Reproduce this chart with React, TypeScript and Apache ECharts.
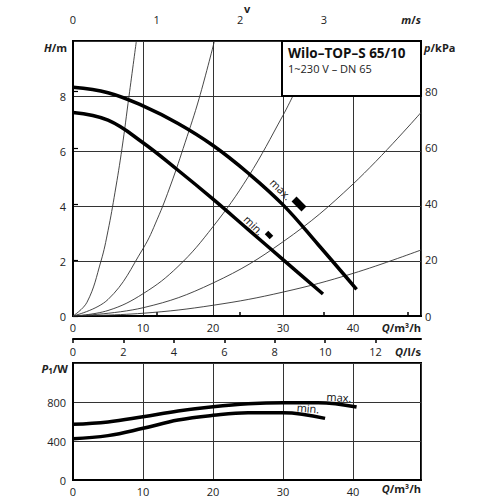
import React, { useEffect, useRef } from 'react';
import * as echarts from 'echarts';

const FONT = '"Open Sans", "DejaVu Sans", sans-serif';

// Axis extents
const Q_MAX = 49.7; // m³/h
const H_MAX = 10; // m
const KPA_MAX = 98.1; // kPa
const V_MAX = 4.162; // m/s
const LS_MAX = 13.8; // l/s
const P_MAX = 1200; // W

// Pump curves H(Q)
const qMaxH = [0, 5, 10, 15, 20, 25, 30, 35, 40.5];
const hMax = [8.32, 8.12, 7.64, 7.0, 6.2, 5.2, 4.04, 2.6, 0.97];
const qMinH = [0, 5, 10, 15, 20, 25, 30, 35.7];
const hMin = [7.4, 7.12, 6.3, 5.3, 4.25, 3.15, 2.05, 0.8];

// System curves
const sysQ1 = [0, 2, 4, 5, 6, 7, 8, 9.05];
const sysH1 = [0, 0.5, 2.0, 3.1, 4.5, 6.1, 8.0, 10];
const sysQ2 = [0, 5, 10, 12, 14, 16, 18, 20.2];
const sysH2 = [0, 0.6, 2.45, 3.5, 4.8, 6.3, 7.9, 10];
const sysQ3 = [0, 5, 10, 15, 20, 25, 30, 31.4];
const sysH3 = [0, 0.2, 0.81, 1.8, 3.25, 5.05, 7.3, 8.0];
const sysQ4 = [0, 10, 20, 30, 40, 49.7];
const sysH4 = [0, 0.3, 1.2, 2.7, 4.8, 7.4];
const sysQ5 = [0, 10, 20, 30, 40, 49.7];
const sysH5 = [0, 0.1, 0.39, 0.87, 1.55, 2.4];

// Power curves P1(Q)
const qMaxP = [0, 5, 10, 15, 20, 25, 30, 35, 40.5];
const pMax = [571, 595, 649, 708, 752, 782, 793, 793, 749];
const qMinP = [0, 5, 10, 15, 20, 25, 30, 36];
const pMin = [424, 455, 530, 615, 663, 690, 690, 632];

const pairs = (xs: number[], ys: number[]) => xs.map((x, i) => [x, ys[i]]);

const labelStyle = { fontSize: 11, color: '#222', fontFamily: FONT };

function App() {
  const ref = useRef<HTMLDivElement>(null);
  useEffect(() => {
    if (!ref.current) return;
    const chart = echarts.init(ref.current, null, { renderer: 'svg' });

    const thin = (xs: number[], ys: number[]) => ({
      type: 'line',
      xAxisIndex: 0,
      yAxisIndex: 0,
      data: pairs(xs, ys),
      smooth: 0.4,
      symbol: 'none',
      lineStyle: { color: '#333', width: 0.9 },
      z: 3,
    });
    const thick = (xs: number[], ys: number[], xi: number, yi: number) => ({
      type: 'line',
      xAxisIndex: xi,
      yAxisIndex: yi,
      data: pairs(xs, ys),
      smooth: 0.4,
      symbol: 'none',
      lineStyle: { color: '#000', width: 3.5, cap: 'butt' },
      z: 5,
    });

    const axisLine = (w: number) => ({ show: true, lineStyle: { color: '#000', width: w } });
    const grid = { show: true, borderColor: '#000', borderWidth: 2, backgroundColor: 'transparent' };
    const split = { show: true, lineStyle: { color: '#333', width: 1 } };

    const txt = (x: number, y: number, text: string, align: string, rich: any, extra: any = {}) => ({
      type: 'text',
      x,
      y,
      z: 120,
      style: {
        text,
        textAlign: align,
        textVerticalAlign: 'middle',
        fill: '#222',
        rich,
        font: `11px ${FONT}`,
      },
      ...extra,
    });
    const richAxis = {
      i: { fontStyle: 'italic', fontWeight: 'bold', fontSize: 11, fontFamily: FONT, color: '#222' },
      n: { fontWeight: 'bold', fontSize: 11, fontFamily: FONT, color: '#222' },
      s: { fontWeight: 'bold', fontSize: 8, fontFamily: FONT, color: '#222', padding: [5, 0, 0, 0] },
    };

    chart.setOption({
      animation: false,
      backgroundColor: '#fff',
      grid: [
        { ...grid, left: 73, top: 41, width: 348, height: 275, outerBoundsMode: 'none' },
        { ...grid, left: 73, top: 363, width: 348, height: 117, outerBoundsMode: 'none' },
      ],
      xAxis: [
        {
          type: 'value', gridIndex: 0, min: 0, max: Q_MAX, interval: 10, position: 'bottom',
          axisLine: axisLine(2), axisTick: { show: false },
          axisLabel: { ...labelStyle, margin: 6, showMaxLabel: false },
          splitLine: split,
        },
        {
          type: 'value', gridIndex: 0, min: 0, max: V_MAX, interval: 1, position: 'top', offset: 9,
          axisLine: axisLine(2), axisTick: { show: true, length: 4, lineStyle: { color: '#000', width: 1.5 } },
          axisLabel: { ...labelStyle, margin: 7, showMaxLabel: false, formatter: (v: number) => (v === 4 ? '' : String(v)) },
          splitLine: { show: false },
        },
        {
          type: 'value', gridIndex: 0, min: 0, max: LS_MAX, interval: 2, position: 'bottom', offset: 23,
          axisLine: axisLine(2), axisTick: { show: true, length: 4, lineStyle: { color: '#000', width: 1.5 } },
          axisLabel: { ...labelStyle, margin: 7, showMaxLabel: false },
          splitLine: { show: false },
        },
        {
          type: 'value', gridIndex: 1, min: 0, max: Q_MAX, interval: 10, position: 'bottom',
          axisLine: axisLine(2), axisTick: { show: false },
          axisLabel: { ...labelStyle, margin: 6, showMaxLabel: false },
          splitLine: split,
        },
      ],
      yAxis: [
        {
          type: 'value', gridIndex: 0, min: 0, max: H_MAX, interval: 2, position: 'left',
          axisLine: axisLine(2), axisTick: { show: false },
          axisLabel: { ...labelStyle, margin: 7, showMaxLabel: false },
          splitLine: split,
        },
        {
          type: 'value', gridIndex: 0, min: 0, max: KPA_MAX, interval: 20, position: 'right',
          axisLine: axisLine(2), axisTick: { show: true, length: 5, lineStyle: { color: '#000', width: 1.2 } },
          axisLabel: { ...labelStyle, margin: 4, showMaxLabel: false },
          splitLine: { show: false },
        },
        {
          type: 'value', gridIndex: 1, min: 0, max: P_MAX, interval: 400, position: 'left',
          axisLine: axisLine(2), axisTick: { show: false },
          axisLabel: { ...labelStyle, margin: 7, showMaxLabel: false },
          splitLine: split,
        },
      ],
      series: [
        thin(sysQ1, sysH1),
        thin(sysQ2, sysH2),
        thin(sysQ3, sysH3),
        thin(sysQ4, sysH4),
        thin(sysQ5, sysH5),
        thick(qMaxH, hMax, 0, 0),
        thick(qMinH, hMin, 0, 0),
        thick(qMaxP, pMax, 3, 2),
        thick(qMinP, pMin, 3, 2),
      ],
      graphic: [
        {
          type: 'rect', z: 100,
          shape: { x: 282, y: 41, width: 139, height: 55 },
          style: { fill: '#fff', stroke: '#000', lineWidth: 2 },
        },
        {
          type: 'text', x: 288, y: 53, z: 110,
          style: { text: 'Wilo–TOP–S 65/10', font: `bold 13.5px ${FONT}`, fill: '#111', textVerticalAlign: 'middle' },
        },
        {
          type: 'text', x: 288, y: 68, z: 110,
          style: { text: '1~230 V – DN 65', font: `11px ${FONT}`, fill: '#222', textVerticalAlign: 'middle' },
        },
        txt(67, 47, '{i|H}{n|/m}', 'right', richAxis),
        txt(424, 47, '{i|p}{n|/kPa}', 'left', richAxis),
        txt(247, 8, '{n|v}', 'center', richAxis),
        txt(421, 19, '{i|m}{n|/}{i|s}', 'right', richAxis),
        txt(421, 327, '{i|Q}{n|/m³/h}', 'right', richAxis),
        txt(421, 351, '{i|Q}{n|/l/s}', 'right', richAxis),
        txt(68, 368, '{i|P}{s|1}{n|/W}', 'right', richAxis),
        txt(421, 488, '{i|Q}{n|/m³/h}', 'right', richAxis),
        // curve annotations
        {
          type: 'text', x: 281, y: 189, rotation: -Math.PI / 4, z: 110,
          style: { text: 'max.', font: `11px ${FONT}`, fill: '#111', textAlign: 'center', textVerticalAlign: 'middle' },
        },
        {
          type: 'rect', x: 299, y: 204, rotation: -Math.PI / 4, z: 110,
          shape: { x: -7, y: -3.5, width: 14, height: 7 },
          style: { fill: '#000' },
        },
        {
          type: 'text', x: 254, y: 225, rotation: -Math.PI / 4, z: 110,
          style: { text: 'min.', font: `11px ${FONT}`, fill: '#111', textAlign: 'center', textVerticalAlign: 'middle' },
        },
        {
          type: 'rect', x: 269, y: 235, rotation: -Math.PI / 4, z: 110,
          shape: { x: -3.5, y: -2.5, width: 7, height: 5 },
          style: { fill: '#000' },
        },
        {
          type: 'text', x: 339, y: 397, rotation: -0.05, z: 110,
          style: { text: 'max.', font: `11px ${FONT}`, fill: '#111', textAlign: 'center', textVerticalAlign: 'middle' },
        },
        {
          type: 'text', x: 308, y: 408, rotation: -0.08, z: 110,
          style: { text: 'min.', font: `11px ${FONT}`, fill: '#111', textAlign: 'center', textVerticalAlign: 'middle' },
        },
      ],
    });
    return () => chart.dispose();
  }, []);
  return <div ref={ref} style={{ position: 'fixed', left: 0, top: 0, width: 500, height: 500 }} />;
}

export default App;
